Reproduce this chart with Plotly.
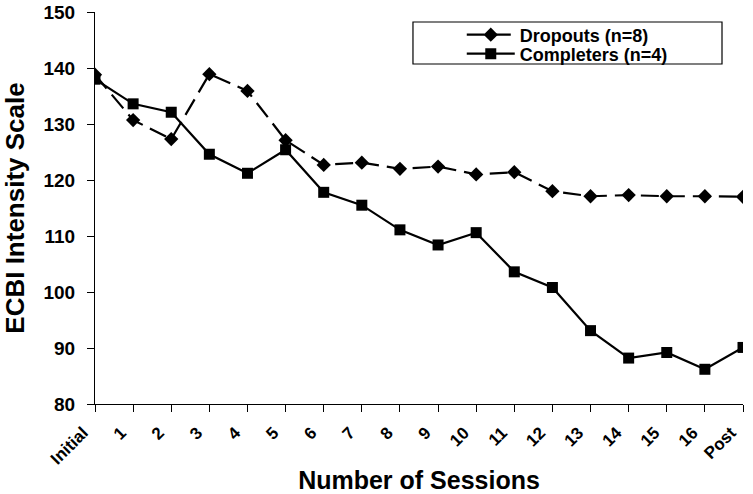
import plotly.graph_objects as go

sessions = ["Initial", "1", "2", "3", "4", "5", "6", "7", "8", "9", "10",
            "11", "12", "13", "14", "15", "16", "Post"]
dropouts = [138.8, 130.7, 127.3, 138.9, 135.9, 127.1, 122.7, 123.1, 122.0,
            122.4, 121.0, 121.4, 118.0, 117.1, 117.3, 117.1, 117.1, 117.0]
completers = [138.0, 133.6, 132.1, 124.6, 121.2, 125.4, 117.8, 115.5, 111.1,
              108.4, 110.6, 103.6, 100.8, 93.1, 88.2, 89.2, 86.2, 90.1]
y_ticks = [80, 90, 100, 110, 120, 130, 140, 150]

FONT = "Liberation Sans, Arial, sans-serif"
LEG_FONT = dict(size=18, family=FONT, weight="bold")

fig = go.Figure()
fig.add_trace(go.Scatter(
    x=sessions, y=dropouts, name="Dropouts (n=8)", mode="lines+markers",
    line=dict(color="black", width=2.2, dash="18px,8px"),
    marker=dict(symbol="diamond", size=11, color="black"),
    legend="legend",
))
fig.add_trace(go.Scatter(
    x=sessions, y=completers, name="Completers (n=4)", mode="lines+markers",
    line=dict(color="black", width=2.2),
    marker=dict(symbol="square", size=11, color="black"),
    legend="legend2",
))

# legend frame
fig.add_shape(type="rect", xref="paper", yref="paper",
              x0=0.4907, x1=0.9676, y0=0.8673, y1=0.9745,
              line=dict(color="black", width=1.2), fillcolor="white", layer="below")

fig.update_layout(
    width=753, height=494,
    margin=dict(l=95, r=10, t=12, b=90),
    paper_bgcolor="white", plot_bgcolor="white",
    font=dict(family=FONT, color="black"),
    showlegend=True,
    legend=dict(
        x=0.566, y=0.9413, xanchor="left", yanchor="middle",
        borderwidth=0, bgcolor="rgba(0,0,0,0)",
        font=LEG_FONT, itemwidth=48,
    ),
    legend2=dict(
        x=0.566, y=0.8929, xanchor="left", yanchor="middle",
        borderwidth=0, bgcolor="rgba(0,0,0,0)",
        font=LEG_FONT, itemwidth=48,
    ),
    xaxis=dict(
        type="category", range=[0, 17], automargin=False,
        showline=True, linecolor="black", linewidth=1.2,
        ticks="outside", ticklen=7, tickcolor="black", tickwidth=1.2,
        tickangle=-45, showgrid=False, zeroline=False,
        ticklabelstandoff=4, ticklabelshift=-12,
        tickfont=dict(size=17, family=FONT, weight="bold"),
        title=dict(text="Number of Sessions", font=dict(size=25, family=FONT, weight="bold"),
                   standoff=14),
    ),
    yaxis=dict(
        range=[80, 150], tickvals=y_ticks, automargin=False,
        showline=True, linecolor="black", linewidth=1.2,
        ticks="outside", ticklen=7, tickcolor="black", tickwidth=1.2,
        showgrid=False, zeroline=False,
        ticklabelstandoff=8,
        tickfont=dict(size=19, family=FONT, weight="bold"),
        title=dict(text="ECBI Intensity Scale", font=dict(size=26, family=FONT, weight="bold"),
                   standoff=14),
    ),
)

fig.write_html("out.html", config={"displayModeBar": False},
               post_script="document.body.style.margin='0';document.body.style.overflow='hidden';")
